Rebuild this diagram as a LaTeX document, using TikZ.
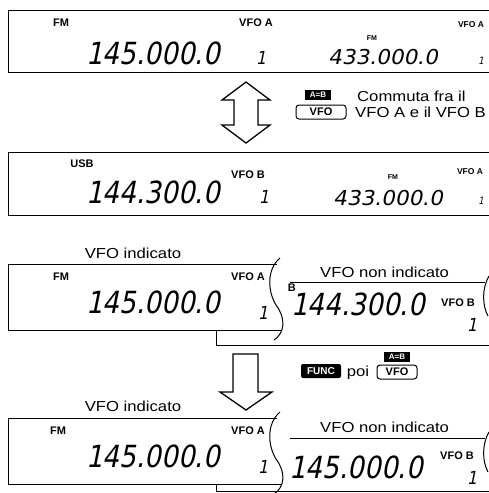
\documentclass[tikz,border=0pt]{standalone}
\usepackage{fontspec}
\setmainfont{Liberation Sans}
\newfontfamily\lcd{DejaVu Sans}[FakeSlant=0.2,FakeStretch=0.86]
\newfontfamily\lcdw{DejaVu Sans}[FakeSlant=0.2,FakeStretch=1.05]
\newfontfamily\lbl{Liberation Sans}[FakeStretch=1.15]
\begin{document}
\begin{tikzpicture}[x=1pt,y=-1pt,
  tag/.style={font=\fontsize{11}{11}\selectfont\bfseries, inner sep=0pt},
  tagsm/.style={font=\fontsize{8.5}{8.5}\selectfont\bfseries, inner sep=0pt},
  tagxs/.style={font=\fontsize{7}{7}\selectfont\bfseries, inner sep=0pt},
  bignum/.style={font=\lcd\fontsize{30.5}{30.5}\selectfont, inner sep=0pt},
  bigone/.style={font=\lcd\fontsize{18}{18}\selectfont, inner sep=0pt},
  smallnum/.style={font=\lcdw\fontsize{20.5}{20.5}\selectfont, inner sep=0pt},
  smallone/.style={font=\lcd\fontsize{10}{10}\selectfont, inner sep=0pt},
  caption/.style={font=\lbl\fontsize{14.5}{14.5}\selectfont, inner sep=0pt},
  frame/.style={line width=1pt},
  blackkey/.style={fill=black, text=white, font=\fontsize{8}{8}\selectfont\bfseries, inner sep=0pt, minimum width=26pt, minimum height=10pt},
  funckey/.style={fill=black, text=white, rounded corners=2pt, font=\fontsize{10}{10}\selectfont\bfseries, inner sep=0pt, minimum width=40pt, minimum height=14pt},
  vfokey/.style={draw, line width=1pt, rounded corners=3pt, font=\fontsize{11}{11}\selectfont\bfseries, inner sep=0pt, minimum height=14pt},
  bigarrow/.style={draw, line width=1.3pt, fill=white, line join=miter}
]
\useasboundingbox (0,0) rectangle (489,493);

% ---------- Panel 1 ----------
\draw[frame] (489,10) -- (8,10) -- (8,72) -- (489,72);
\node[tag] (p1fm) at (61,23) {FM};
\node[tag] (p1vfoa) at (256,23) {VFO A};
\node[bignum] (p1num) at (153,53) {145.000.0};
\node[bigone] (p1one) at (261,58) {1};
\node[tagxs] (p1fm2) at (372,38) {FM};
\node[tagsm] (p1vfoa2) at (471,25) {VFO A};
\node[smallnum] (p1num2) at (383,57) {433.000.0};
\node[smallone] (p1one2) at (481,61) {1};

% ---------- Double arrow ----------
\draw[bigarrow] (246,82) -- (270,100) -- (258,100) -- (258,125) -- (270,125) -- (246,143)
  -- (222,125) -- (234,125) -- (234,100) -- (222,100) -- cycle;
\node[blackkey] (ab1) at (318,95) {A=B};
\node[vfokey, minimum width=50pt] (vfo1) at (321,112) {VFO};
\node[caption, anchor=base west] (c1) at (357,101) {Commuta fra il};
\node[caption, anchor=base west] (c2) at (355,117) {VFO A e il VFO B};

% ---------- Panel 2 ----------
\draw[frame] (489,152) -- (8,152) -- (8,215) -- (489,215);
\node[tag] (p2usb) at (82,164) {USB};
\node[bignum] (p2num) at (153,192) {144.300.0};
\node[tag] (p2vfob) at (248,175) {VFO B};
\node[bigone] (p2one) at (264,197) {1};
\node[tagxs] (p2fm) at (393,177) {FM};
\node[tagsm] (p2vfoa) at (470,172) {VFO A};
\node[smallnum] (p2num2) at (388,198) {433.000.0};
\node[smallone] (p2one2) at (481,201) {1};

% ---------- Panel 3 ----------
\node[caption, anchor=base] (p3cap) at (133,258) {VFO indicato};
\node[caption, anchor=base west] (p3cap2) at (320,277) {VFO non indicato};
% right (hidden) display
\draw[frame] (290,282) -- (485,282);
\draw[frame] (489,276) .. controls (482,288) and (482,305) .. (488,316);
\draw[frame] (216,330) -- (216,345) -- (489,345);
\begin{scope}
  \clip (288,283) rectangle (489,344);
  \node[tag, anchor=east] (p3usb) at (296,288) {USB};
\end{scope}
\node[bignum] (p3num2) at (358,304) {144.300.0};
\node[tag] (p3vfob) at (458,303) {VFO B};
\node[bigone] (p3one2) at (472,325) {1};
% left (shown) display
\fill[white] (8,264) -- (277,264) .. controls (268,290) .. (276,305) .. controls (286,318) and (285,328) .. (281,330) -- (8,330) -- cycle;
\draw[frame] (277,264) -- (8,264) -- (8,330) -- (281,330);
\draw[frame] (280,258) .. controls (266,270) and (268,292) .. (276,305) .. controls (286,318) and (285,333) .. (274,340);
\node[tag] (p3fm) at (61,277) {FM};
\node[tag] (p3vfoa) at (248,277) {VFO A};
\node[bignum] (p3num) at (153,302) {145.000.0};
\node[bigone] (p3one) at (263,313) {1};

% ---------- Down arrow and keys ----------
\draw[bigarrow] (233,354) -- (233,392) -- (220,392) -- (246,410) -- (272,392) -- (258,392) -- (258,354) -- cycle;
\node[funckey] (func) at (321,371) {FUNC};
\node[caption, anchor=base] (poi) at (358,376) {poi};
\node[blackkey] (ab2) at (397,357) {A=B};
\node[vfokey, minimum width=40pt] (vfo2) at (397,372) {VFO};

% ---------- Panel 4 ----------
\node[caption, anchor=base] (p4cap) at (133,411) {VFO indicato};
\node[caption, anchor=base west] (p4cap2) at (320,432) {VFO non indicato};
\draw[frame] (290,438) -- (485,438);
\draw[frame] (489,432) .. controls (482,444) and (482,461) .. (488,472);
\draw[frame] (216,484) -- (216,491) -- (489,491);
\node[bignum] (p4num2) at (356,467) {145.000.0};
\node[tag] (p4vfob) at (457,456) {VFO B};
\node[bigone] (p4one2) at (472,478) {1};
\fill[white] (8,418) -- (277,418) .. controls (268,444) .. (276,459) .. controls (286,472) and (285,482) .. (281,484) -- (8,484) -- cycle;
\draw[frame] (277,418) -- (8,418) -- (8,484) -- (281,484);
\draw[frame] (280,412) .. controls (266,424) and (268,446) .. (276,459) .. controls (286,472) and (285,487) .. (274,494);
\node[tag] (p4fm) at (58,431) {FM};
\node[tag] (p4vfoa) at (248,431) {VFO A};
\node[bignum] (p4num) at (153,456) {145.000.0};
\node[bigone] (p4one) at (263,467) {1};
\end{tikzpicture}
\end{document}
